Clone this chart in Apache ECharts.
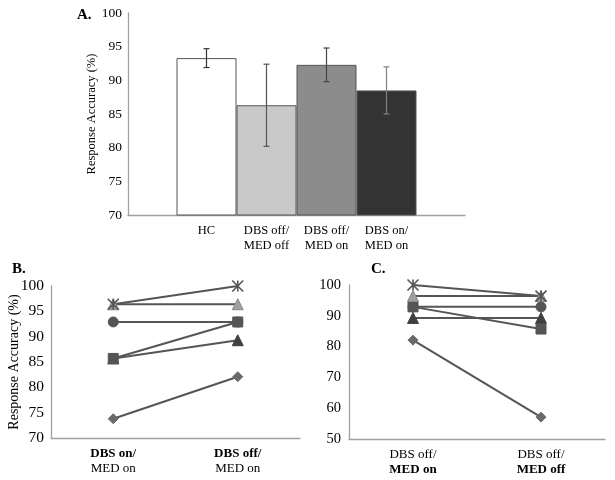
<!DOCTYPE html>
<html><head><meta charset="utf-8">
<script src="https://cdn.jsdelivr.net/npm/echarts@6/dist/echarts.min.js"></script>
<style>html,body{margin:0;padding:0;background:#fff}#c{width:615px;height:480px}</style>
</head><body><div id="c"></div>
<script>
// Panel A
const catA = ['HC', 'DBS off/\nMED off', 'DBS off/\nMED on', 'DBS on/\nMED on'];
const valA = [93.3, 86.3, 92.3, 88.5];
const errA = [1.4, 6.1, 2.5, 3.5];
const ticksA = [70, 75, 80, 85, 90, 95, 100];

// Panel B: DBS on/MED on -> DBS off/MED on
const catB = [['DBS on/', 'MED on'], ['DBS off/', 'MED on']];
// Panel C: DBS off/MED on -> DBS off/MED off
const catC = [['DBS off/', 'MED on'], ['DBS off/', 'MED off']];

const subjDiamond = { B: [73.8, 82.1], C: [82.1, 57.1] };
const subjTriDark = { B: [85.7, 89.3], C: [89.3, 89.3] };
const subjCircle  = { B: [92.9, 92.9], C: [92.9, 92.9] };
const subjSquare  = { B: [85.7, 92.9], C: [92.9, 85.7] };
const subjTriLight= { B: [96.4, 96.4], C: [96.4, 96.4] };
const subjStar    = { B: [96.4, 100.0], C: [100.0, 96.4] };

const FONT = 'Liberation Serif';
const barColors = ['#ffffff', '#c9c9c9', '#8c8c8c', '#333333'];
const errColors = ['#333333', '#555555', '#444444', '#808080'];
const BARW = 60;

const subjects = [
  { d: subjDiamond, symbol: 'diamond', size: 10, color: '#6a6a6a' },
  { d: subjTriDark, symbol: 'triangle', size: 11, color: '#404040' },
  { d: subjCircle, symbol: 'circle', size: 10, color: '#555555' },
  { d: subjSquare, symbol: 'rect', size: 10, color: '#555555' },
  { d: subjTriLight, symbol: 'triangle', size: 11, color: '#a0a0a0', border: '#888' },
  { d: subjStar, symbol: 'path://M0,0L10,10M10,0L0,10M5,0L5,10', size: 11, color: '#555555', star: true }
];

const axisLine = { show: true, lineStyle: { color: '#a0a0a0', width: 1.3 } };
const tickLbl = (fs, m) => ({ fontFamily: FONT, fontSize: fs, color: '#000', margin: m });

function yAx(gi, min, max, interval, fs, name, gap, margin, nfs) {
  return {
    type: 'value', gridIndex: gi, min, max, interval,
    axisLine, axisTick: { show: false }, splitLine: { show: false },
    axisLabel: tickLbl(fs, margin),
    name, nameLocation: 'middle', nameGap: gap, nameMoveOverlap: false,
    nameTextStyle: { fontFamily: FONT, fontSize: nfs, color: '#000' }
  };
}
function xAxCat(gi, cats, boldLine) {
  return {
    type: 'category', gridIndex: gi, data: cats.map(c => c.join('\n')),
    axisLine, axisTick: { show: false },
    axisLabel: {
      margin: 8, interval: 0,
      formatter: (v) => {
        const p = v.split('\n');
        return p.map((t, k) => (k === boldLine ? '{b|' + t + '}' : '{r|' + t + '}')).join('\n');
      },
      rich: {
        b: { fontFamily: FONT, fontSize: 13, fontWeight: 'bold', color: '#000', lineHeight: 15 },
        r: { fontFamily: FONT, fontSize: 13, color: '#000', lineHeight: 15 }
      }
    }
  };
}

const series = [];
catA.forEach((c, i) => {
  series.push({
    type: 'bar', xAxisIndex: 0, yAxisIndex: 0, name: c,
    data: [valA[i]], barWidth: BARW, barGap: '0%',
    itemStyle: { color: barColors[i], borderColor: '#555', borderWidth: 1 },
    label: { show: true, position: 'bottom', distance: 8, formatter: c,
      fontFamily: FONT, fontSize: 12.5, color: '#000', lineHeight: 15 },
    silent: true
  });
});
series.push({
  type: 'custom', xAxisIndex: 0, yAxisIndex: 0, z: 10,
  data: valA.map((v, i) => [0, v - errA[i], v + errA[i], i]),
  encode: { x: 0, y: [1, 2] },
  renderItem: (params, api) => {
    const i = api.value(3);
    const lo = api.coord([0, api.value(1)]);
    const hi = api.coord([0, api.value(2)]);
    const x = lo[0] + (i - 1.5) * BARW;
    const st = { stroke: errColors[i], lineWidth: 1.2 };
    return { type: 'group', children: [
      { type: 'line', shape: { x1: x, y1: lo[1], x2: x, y2: hi[1] }, style: st },
      { type: 'line', shape: { x1: x - 3, y1: lo[1], x2: x + 3, y2: lo[1] }, style: st },
      { type: 'line', shape: { x1: x - 3, y1: hi[1], x2: x + 3, y2: hi[1] }, style: st }
    ]};
  }
});

[['B', 1], ['C', 2]].forEach(([k, gi]) => {
  subjects.forEach(s => {
    series.push({
      type: 'line', xAxisIndex: gi, yAxisIndex: gi, data: s.d[k],
      symbol: s.symbol, symbolSize: s.size,
      lineStyle: { color: '#555', width: 2 },
      itemStyle: { color: s.star ? 'none' : s.color, borderColor: s.border || s.color, borderWidth: s.star ? 1.6 : 1 },
      showSymbol: true, animation: false, silent: true
    });
  });
});

const chart = echarts.init(document.getElementById('c'), null, { renderer: 'canvas' });
chart.setOption({
  animation: false,
  backgroundColor: '#fff',
  grid: [
    { left: 128, top: 13, width: 337, height: 202 },
    { left: 51, top: 286, width: 249, height: 152 },
    { left: 349, top: 285, width: 256, height: 154 }
  ],
  xAxis: [
    { type: 'category', gridIndex: 0, data: [''], axisLine, axisTick: { show: false }, axisLabel: { show: false } },
    xAxCat(1, catB, 0),
    xAxCat(2, catC, 1)
  ],
  yAxis: [
    yAx(0, 70, 100, 5, 13.5, 'Response Accuracy (%)', 30, 6, 12.5),
    yAx(1, 70, 100, 5, 15.5, 'Response Accuracy (%)', 30, 7, 14),
    yAx(2, 50, 100, 10, 14.5, '', 30, 8, 14)
  ],
  graphic: [
    { type: 'text', left: 77, top: 8, style: { text: 'A.', font: 'bold 15px "Liberation Serif"', fill: '#000' } },
    { type: 'text', left: 12, top: 262, style: { text: 'B.', font: 'bold 15px "Liberation Serif"', fill: '#000' } },
    { type: 'text', left: 371, top: 262, style: { text: 'C.', font: 'bold 15px "Liberation Serif"', fill: '#000' } }
  ],
  series
});
</script></body></html>
